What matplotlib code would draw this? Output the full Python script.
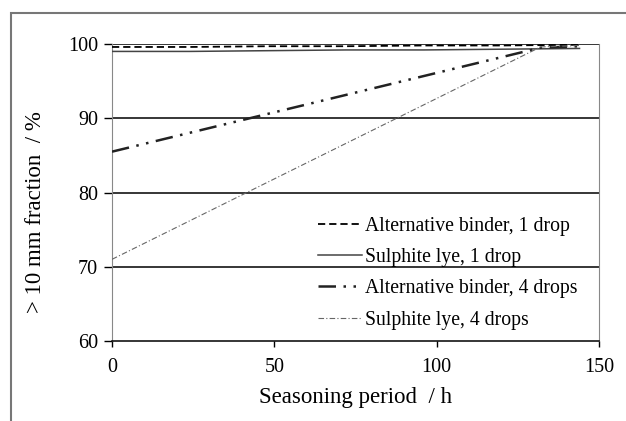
import matplotlib
matplotlib.use('Agg')
import matplotlib.pyplot as plt
from matplotlib.patches import Rectangle

plt.rcParams['font.family'] = ['Liberation Serif', 'DejaVu Serif']

hours_1drop = [0, 24, 48, 72, 96, 120, 144]
alt_1drop = [99.6, 99.6, 99.7, 99.7, 99.8, 99.8, 99.9]
sul_1drop = [99.0, 99.0, 99.1, 99.2, 99.2, 99.3, 99.4]

hours_4drop = [0, 132, 144]
alt_4drop = [85.5, 99.5, 99.7]
sul_4drop = [71.0, 99.6, 99.8]

labels = ['Alternative binder, 1 drop', 'Sulphite lye, 1 drop',
          'Alternative binder, 4 drops', 'Sulphite lye, 4 drops']
xticks = [0, 50, 100, 150]
yticks = [60, 70, 80, 90, 100]

fig = plt.figure(figsize=(6.26, 4.21), dpi=100)
ax = fig.add_axes([112/626, 1 - 341/421, 487/626, 297/421])

# grid lines first so the data sits on top
for y in yticks[1:]:
    ax.axhline(y, color='black', lw=1.1, zorder=1)

ax.plot(hours_1drop, alt_1drop, color='black', lw=1.3, dashes=(4, 2.2), label=labels[0], zorder=3)
ax.plot(hours_1drop, sul_1drop, color='#444444', lw=1.1, label=labels[1], zorder=3)
ax.plot(hours_4drop, alt_4drop, color='#222222', lw=1.8, dashes=(7, 3, 1, 3, 1, 3), label=labels[2], zorder=3)
ax.plot(hours_4drop, sul_4drop, color='#666666', lw=0.8, dashes=(5, 2, 1, 2), label=labels[3], zorder=3)

ax.set_xlim(0, 150)
ax.set_ylim(60, 100)
ax.set_xticks(xticks)
ax.set_yticks(yticks)
ax.tick_params(axis='both', direction='out', labelsize=14.5, colors='black')
ax.tick_params(axis='y', length=6, width=1, pad=4)
ax.tick_params(axis='x', length=4, width=1, pad=8)

ax.spines['top'].set_visible(False)
ax.spines['left'].set_color('#888888')
ax.spines['right'].set_color('#888888')
ax.spines['right'].set_linewidth(0.8)
ax.spines['bottom'].set_color('black')
ax.spines['bottom'].set_linewidth(1.1)

ax.set_xlabel('Seasoning period  / h', fontsize=16.5)
ax.set_ylabel('> 10 mm fraction  / %', fontsize=16.5)
ax.xaxis.set_label_coords(0.5, -0.155)
ax.yaxis.set_label_coords(-0.135, 0.435)

ax.legend(loc='upper left', bbox_to_anchor=(0.423, 0.418), frameon=False,
          fontsize=14.2, handlelength=2.25, handletextpad=0.15,
          labelspacing=0.62, borderpad=0, borderaxespad=0)

fig.patches.append(Rectangle((11/626, -0.1), 1.2, (421 - 13)/421 + 0.1,
                             transform=fig.transFigure, fill=False,
                             edgecolor='#777777', lw=1.5))

fig.savefig('out.png', dpi=100)
